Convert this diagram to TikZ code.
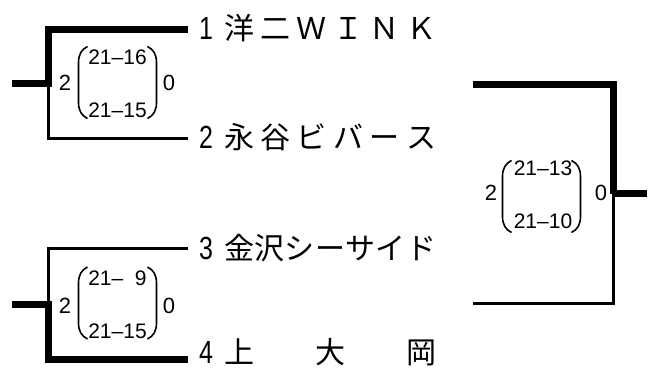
\documentclass[tikz,border=0pt]{standalone}
\usepackage{fontspec}
\setmainfont{Liberation Sans}
\newfontfamily\jp{Noto Sans CJK JP}
\tikzset{
  parens/.pic={
    \draw[line width=1.6pt] (-30,-36) .. controls (-36,-33) and (-39,-28) .. (-39,-20) -- (-39,20) .. controls (-39,28) and (-36,33) .. (-30,36);
    \draw[line width=1.6pt] (30,-36) .. controls (36,-33) and (39,-28) .. (39,-20) -- (39,20) .. controls (39,28) and (36,33) .. (30,36);
  }
}
\begin{document}
\begin{tikzpicture}[x=1pt,y=-1pt,
  thickline/.style={line width=7pt},
  thinline/.style={line width=3pt},
  namebox/.style={anchor=west,inner sep=0pt,font=\jp\fontsize{30}{36}\selectfont},
  numbox/.style={anchor=west,inner sep=0pt,font=\fontsize{32}{36}\selectfont},
  score/.style={inner sep=0pt,font=\fontsize{21}{24}\selectfont},
  side/.style={inner sep=0pt,font=\fontsize{22}{24}\selectfont}
]
\useasboundingbox (0,0) rectangle (661,369);
% team names
\node[numbox] (n1) at (199,28) {\scalebox{0.78}[1]{1}};
\node[numbox] (n2) at (199,137) {\scalebox{0.78}[1]{2}};
\node[numbox] (n3) at (199,248) {\scalebox{0.78}[1]{3}};
\node[numbox] (n4) at (199,352) {\scalebox{0.78}[1]{4}};
\node[namebox] (t1) at (224,28) {\makebox[212pt][s]{洋\hfill 二\hfill Ｗ\hfill Ｉ\hfill Ｎ\hfill Ｋ}};
\node[namebox] (t2) at (224,137) {\makebox[212pt][s]{永\hfill 谷\hfill ビ\hfill バ\hfill ー\hfill ス}};
\node[namebox] (t3) at (224,248) {\makebox[212pt][s]{金\hfill 沢\hfill シ\hfill ー\hfill サ\hfill イ\hfill ド}};
\node[namebox] (t4) at (224,352) {\makebox[212pt][s]{上\hfill 大\hfill 岡}};
% coordinates of the bracket
\coordinate (e1) at (188,30);
\coordinate (e2) at (188,138);
\coordinate (e3) at (188,248);
\coordinate (e4) at (188,359);
\coordinate (j12) at (48,83.5);
\coordinate (j34) at (48,304);
\coordinate (s12) at (15,83.5);
\coordinate (s34) at (15,304);
\coordinate (r1) at (473,84);
\coordinate (r2) at (473,303);
\coordinate (jr) at (613.5,193.5);
\coordinate (sr) at (647,193.5);
% top-left match
\draw[thickline] (e1) -| (j12);
\draw[thickline,line cap=rect] (s12) -- (j12);
\draw[thinline] (j12) |- (e2);
% bottom-left match
\draw[thinline] (e3) -| (j34);
\draw[thickline,line cap=rect] (s34) -- (j34);
\draw[thickline] (j34) |- (e4);
% final
\draw[thickline] (r1) -| (jr);
\draw[thickline] (jr) -- (sr);
\draw[thinline] (jr) |- (r2);
% scores top-left
\pic at (117.5,82.5) {parens};
\node[score] (a1) at (117.5,57) {21–16};
\node[score] (a2) at (117.5,110) {21–15};
\node[side] (aw) at (65,83) {2};
\node[side] (al) at (169,83) {0};
% scores bottom-left
\pic at (117.5,303) {parens};
\node[score] (b1) at (117.5,278) {21– \hspace{0.278em}9};
\node[score] (b2) at (117.5,331) {21–15};
\node[side] (bw) at (65,306) {2};
\node[side] (bl) at (169,306) {0};
% scores final
\pic at (541.5,196.5) {parens};
\node[score] (c1) at (543,168) {21–13};
\node[score] (c2) at (543,221) {21–10};
\node[side] (cw) at (491,193) {2};
\node[side] (cl) at (601,193) {0};
\end{tikzpicture}
\end{document}
